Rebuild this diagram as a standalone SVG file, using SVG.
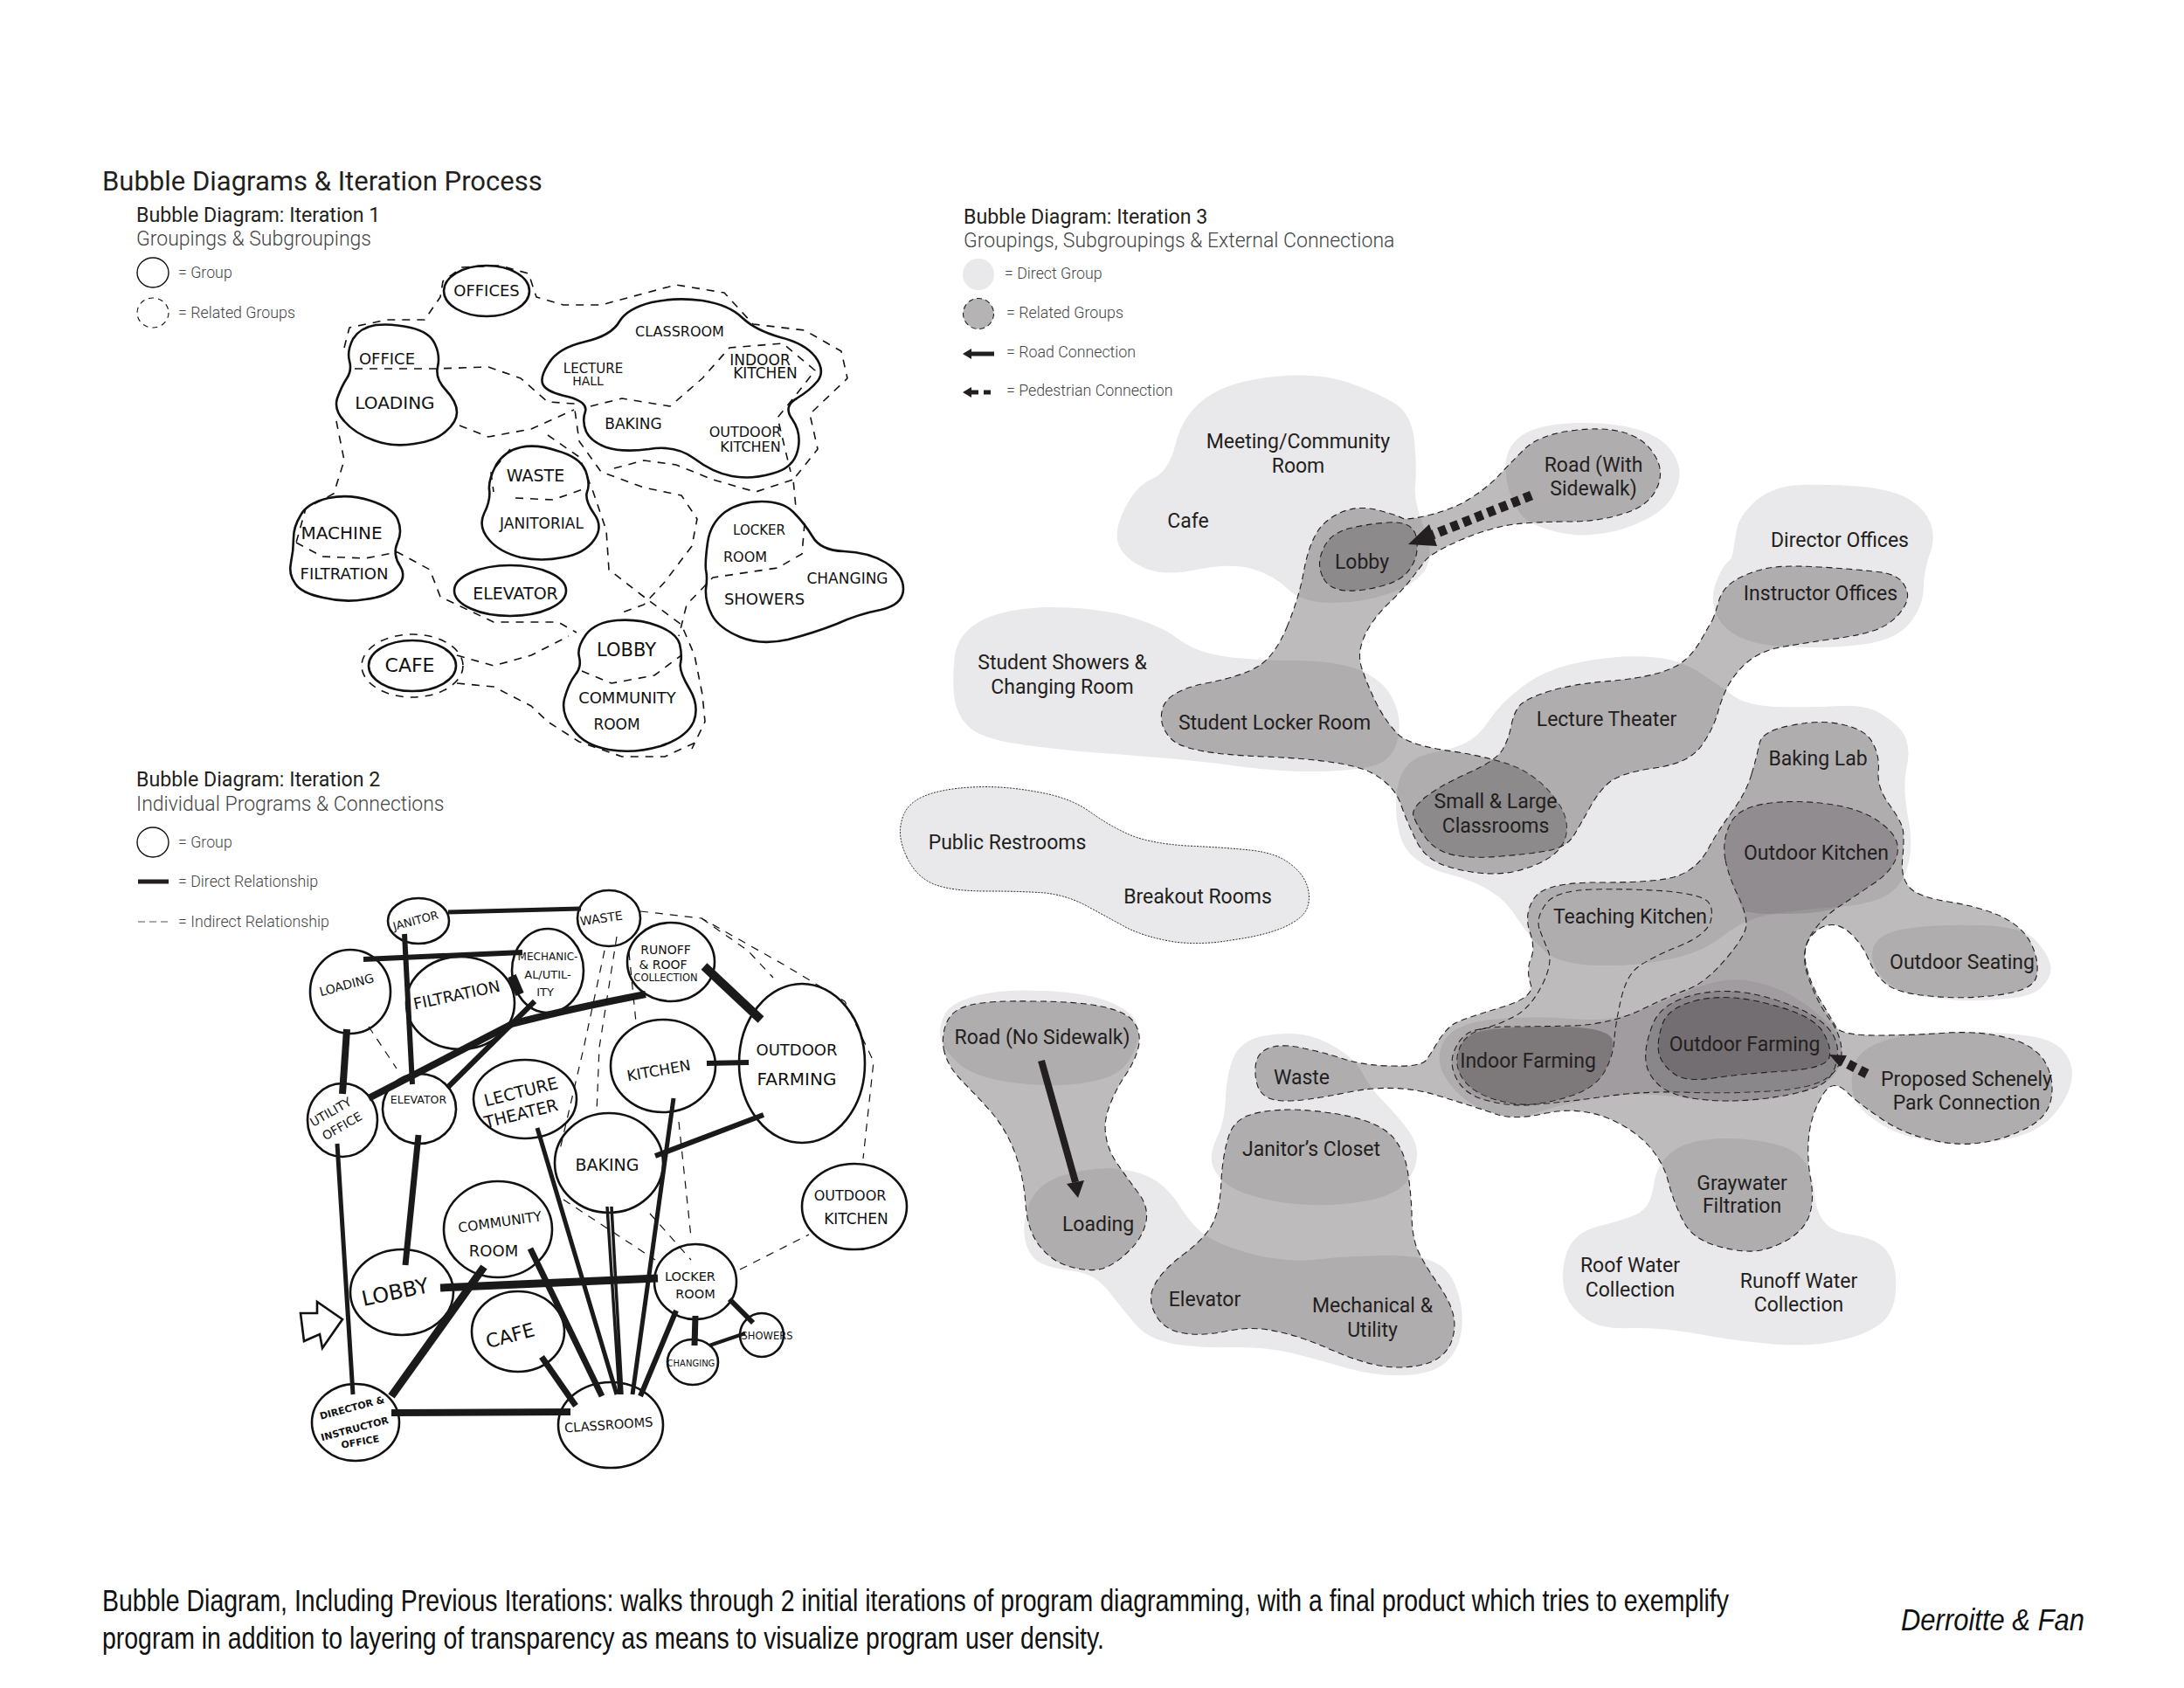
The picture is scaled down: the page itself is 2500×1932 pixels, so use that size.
<svg xmlns="http://www.w3.org/2000/svg" width="2500" height="1932" viewBox="0 0 2500 1932">
<style>
text{font-family:Roboto,"Liberation Sans",sans-serif;fill:#231f20}
.h1{font-size:31px}
.h2{font-size:23.200px}
.h3{font-size:23px;font-weight:300;fill:#444}
.lg{font-size:17.800px;font-weight:300;fill:#444}
.lb{font-size:23px;text-anchor:middle}
.lt{fill:#e9e8ea}
.md{fill:#5a5558;fill-opacity:.4;stroke:#231f20;stroke-width:1.1;stroke-dasharray:7 4.500}
.ln{fill:none;stroke:#231f20;stroke-width:1.1;stroke-dasharray:7 4.500}
.dk{fill:#5a5558;fill-opacity:.5}
.dot{fill:#e9e8ea;stroke:#231f20;stroke-width:1;stroke-dasharray:2 1.500}
.sk{fill:#fff;stroke:#111;stroke-width:2.6}
.sd{fill:none;stroke:#111;stroke-width:1.6;stroke-dasharray:9 8;stroke-linejoin:round}
.st{fill:none;stroke:#1a1a1a;stroke-linecap:butt;stroke-linejoin:round}
.hw{font-family:"DejaVu Sans",sans-serif;font-size:18px;text-anchor:middle;fill:#111}
.cap{font-family:"Liberation Sans Narrow","Liberation Sans",sans-serif;font-size:35px;fill:#111}
.pd{fill:none;stroke:#231f20;stroke-width:11;stroke-dasharray:9 6}
</style>
<rect width="2500" height="1932" fill="#fff"/>

<g id="headings">
<text class="h1" x="117" y="218">Bubble Diagrams &amp; Iteration Process</text>
<text class="h2" x="156" y="254">Bubble Diagram: Iteration 1</text>
<text class="h3" x="156" y="281">Groupings &amp; Subgroupings</text>
<text class="h2" x="156" y="900">Bubble Diagram: Iteration 2</text>
<text class="h3" x="156" y="928">Individual Programs &amp; Connections</text>
<text class="h2" x="1103" y="256">Bubble Diagram: Iteration 3</text>
<text class="h3" x="1103" y="283">Groupings, Subgroupings &amp; External Connectiona</text>
</g>

<g id="legend-1">
<ellipse cx="175" cy="312" rx="18" ry="17" fill="none" stroke="#111" stroke-width="1.4"/>
<text class="lg" x="204" y="318">= Group</text>
<ellipse cx="175" cy="358" rx="18" ry="17" fill="none" stroke="#111" stroke-width="1.1" stroke-dasharray="6 5"/>
<text class="lg" x="204" y="364">= Related Groups</text>
</g>
<g id="legend-2">
<ellipse cx="175" cy="964" rx="18" ry="17" fill="none" stroke="#111" stroke-width="1.4"/>
<text class="lg" x="204" y="970">= Group</text>
<path d="M158 1009H193" stroke="#231f20" stroke-width="5" fill="none"/>
<text class="lg" x="204" y="1015">= Direct Relationship</text>
<path d="M158 1055H193" stroke="#555" stroke-width="1.2" stroke-dasharray="8 5" fill="none"/>
<text class="lg" x="204" y="1061">= Indirect Relationship</text>
</g>
<g id="legend-3">
<circle cx="1120" cy="314" r="18" fill="#e9e8ea"/>
<text class="lg" x="1150" y="319">= Direct Group</text>
<circle cx="1120" cy="359" r="17.500" fill="#b5b3b4" stroke="#231f20" stroke-width="1.1" stroke-dasharray="6 4"/>
<text class="lg" x="1152" y="364">= Related Groups</text>
<path d="M1110 405H1138" stroke="#231f20" stroke-width="5" fill="none"/>
<polygon points="1102,405 1112,399 1112,411" fill="#231f20"/>
<text class="lg" x="1152" y="409">= Road Connection</text>
<path d="M1112 449H1138" stroke="#231f20" stroke-width="5" stroke-dasharray="8 6" fill="none"/>
<polygon points="1102,449 1112,443 1112,455" fill="#231f20"/>
<text class="lg" x="1152" y="453">= Pedestrian Connection</text>
</g>

<g id="iteration-1">
<g id="s1-offices"><ellipse class="sk" cx="557" cy="333" rx="49" ry="29"/><text class="hw" x="557" y="339">OFFICES</text></g>
<g id="s1-office-loading"><path class="sk" d="M400 413 Q397 402 404 388 Q412 375 430 372 Q449 370 470 375 Q492 380 498 394 Q504 407 501 420 Q498 433 510 446 Q523 460 523 472 Q523 483 510 494 Q498 505 474 508 Q449 512 428 504 Q406 496 394 482 Q382 469 386 456 Q391 442 397 433 Q403 424 400 413Z"/><text class="hw" x="443" y="417">OFFICE</text><text class="hw" x="452" y="468" style="font-size:20px">LOADING</text></g>
<g id="s1-classroom"><path class="sk" d="M622 441 Q617 433 628 416 Q639 398 670 391 Q700 384 709 368 Q718 353 746 346 Q774 340 804 344 Q835 349 850 364 Q865 378 893 386 Q921 393 933 408 Q945 424 936 436 Q927 447 912 456 Q896 465 907 480 Q918 496 913 516 Q908 536 884 542 Q859 549 838 545 Q816 541 795 525 Q774 509 743 514 Q712 518 694 512 Q676 505 671 494 Q666 482 670 471 Q673 460 650 454 Q627 449 622 441Z"/>
<text class="hw" x="778" y="385" style="font-size:16px">CLASSROOM</text><text class="hw" x="679" y="427" style="font-size:15px">LECTURE</text><text class="hw" x="673" y="441" style="font-size:14px">HALL</text><text class="hw" x="870" y="418" style="font-size:17px">INDOOR</text><text class="hw" x="876" y="433" style="font-size:17px">KITCHEN</text><text class="hw" x="725" y="491" style="font-size:17px">BAKING</text><text class="hw" x="853" y="500" style="font-size:16px">OUTDOOR</text><text class="hw" x="859" y="517" style="font-size:16px">KITCHEN</text></g>
<g id="s1-waste"><path class="sk" d="M560 560 Q559 549 568 532 Q578 516 596 512 Q614 508 638 516 Q663 523 670 538 Q676 554 672 563 Q669 572 680 588 Q691 603 680 618 Q669 634 644 638 Q620 643 596 638 Q572 632 560 618 Q547 603 554 588 Q562 572 560 560Z"/><text class="hw" x="613" y="551" style="font-size:19px">WASTE</text><text class="hw" x="620" y="605" style="font-size:17px">JANITORIAL</text></g>
<g id="s1-locker"><path class="sk" d="M808 652 Q807 643 810 621 Q813 599 830 586 Q847 574 872 574 Q896 574 908 586 Q921 599 930 614 Q939 630 966 631 Q994 632 1014 644 Q1034 657 1034 674 Q1034 692 1008 698 Q982 703 958 714 Q933 724 902 732 Q871 739 847 729 Q823 719 815 704 Q807 688 808 674 Q810 661 808 652Z"/><text class="hw" x="869" y="612" style="font-size:15px">LOCKER</text><text class="hw" x="853" y="643" style="font-size:16px">ROOM</text><text class="hw" x="970" y="668" style="font-size:17px">CHANGING</text><text class="hw" x="875" y="692">SHOWERS</text></g>
<g id="s1-machine"><path class="sk" d="M336 616 Q336 603 344 590 Q351 576 376 570 Q400 565 424 573 Q449 581 455 594 Q461 608 455 621 Q449 634 458 648 Q466 661 454 672 Q443 683 418 686 Q394 690 370 684 Q345 679 338 668 Q330 657 333 644 Q336 630 336 616Z"/><text class="hw" x="391" y="617" style="font-size:20px">MACHINE</text><text class="hw" x="394" y="663" style="font-size:18px">FILTRATION</text></g>
<g id="s1-elevator"><ellipse class="sk" cx="584" cy="676" rx="64" ry="29"/><text class="hw" x="590" y="686" style="font-size:19px">ELEVATOR</text></g>
<g id="s1-cafe"><ellipse class="sk" cx="472" cy="762" rx="50" ry="29"/><text class="hw" x="469" y="769" style="font-size:22px">CAFE</text></g>
<g id="s1-lobby"><path class="sk" d="M663 752 Q660 741 671 726 Q682 712 706 710 Q731 708 752 716 Q774 724 778 737 Q781 750 779 759 Q777 768 789 788 Q801 808 794 826 Q786 844 756 854 Q725 863 697 858 Q669 853 656 835 Q642 817 646 800 Q651 782 658 773 Q666 764 663 752Z"/><text class="hw" x="717" y="751" style="font-size:21px">LOBBY</text><text class="hw" x="718" y="805" style="font-size:18px">COMMUNITY</text><text class="hw" x="706" y="835" style="font-size:17px">ROOM</text></g>
<g id="s1-connectors">
<polyline class="sd" points="394,398 400,375 443,366 486,366 504,340 507,322 529,306 572,304 605,313 614,340 645,349 688,349 774,326 829,335 862,371 921,378 963,402 970,433 927,474 936,514 908,549 911,581"/>
<polyline class="sd" points="406,422 498,422 559,420 596,433 627,460 657,462 663,505 688,540 737,558 780,567 798,594 792,625 761,666 737,692 712,701"/>
<polyline class="sd" points="385,482 394,527 382,565 350,582 339,621"/>
<polyline class="sd" points="526,487 559,500 608,491 657,469"/>
<polyline class="sd" points="584,514 562,541 565,563"/>
<polyline class="sd" points="590,570 633,572 673,558"/>
<polyline class="sd" points="627,498 663,523 679,563 694,607 697,652 737,683 780,715 795,750 804,795 807,826 792,857"/>
<polyline class="sd" points="703,536 737,527 774,532 816,549 865,563 908,549"/>
<polyline class="sd" points="676,465 712,456 767,465 804,433 835,398 896,393 933,424 908,456 890,478 905,540"/>
<polyline class="sd" points="921,599 918,634 890,650 816,661 786,692 777,728"/>
<polyline class="sd" points="339,621 369,637 418,639 455,632 492,652 504,683 565,712 639,712 660,724"/>
<polyline class="sd" points="666,768 700,782 749,773 780,750"/>
<polyline class="sd" points="523,750 565,762 608,750 651,728"/>
<polyline class="sd" points="523,782 565,786 608,808 627,826 663,849 712,866 761,866 798,849"/>
<ellipse class="sd" cx="472" cy="762" rx="58" ry="36"/>
</g>
</g>

<g id="iteration-2">
<g id="s2-outline-nodes">
<g id="s2-janitor"><ellipse class="sk" cx="479" cy="1054" rx="35" ry="26"/><text class="hw" style="font-size:13px" transform="translate(477,1058) rotate(-15)">JANITOR</text></g>
<g id="s2-waste"><ellipse class="sk" cx="697" cy="1051" rx="36" ry="32"/><text class="hw" style="font-size:14px" transform="translate(689,1056) rotate(-8)">WASTE</text></g>
<g id="s2-filtration"><ellipse class="sk" cx="527" cy="1148" rx="62" ry="53"/><text class="hw" style="font-size:18px" transform="translate(524,1145) rotate(-12)">FILTRATION</text></g>
<g id="s2-mechanical"><ellipse class="sk" cx="627" cy="1111" rx="41" ry="48"/><text class="hw" style="font-size:12px" x="627" y="1099">MECHANIC-</text><text class="hw" style="font-size:13px" x="627" y="1120">AL/UTIL-</text><text class="hw" style="font-size:13px" x="624" y="1140">ITY</text></g>
<g id="s2-runoff"><ellipse class="sk" cx="768" cy="1101" rx="50" ry="45"/><text class="hw" style="font-size:14px" x="762" y="1092">RUNOFF</text><text class="hw" style="font-size:14px" x="759" y="1109">&amp; ROOF</text><text class="hw" style="font-size:11.500px" x="762" y="1123">COLLECTION</text></g>
<g id="s2-loading"><ellipse class="sk" cx="401" cy="1135" rx="46" ry="48"/><text class="hw" style="font-size:14px" transform="translate(398,1132) rotate(-15)">LOADING</text></g>
<g id="s2-farming"><ellipse class="sk" cx="918" cy="1217" rx="72" ry="91"/><text class="hw" style="font-size:18px" x="912" y="1208">OUTDOOR</text><text class="hw" style="font-size:20px" x="912" y="1242">FARMING</text></g>
<g id="s2-kitchen"><ellipse class="sk" cx="759" cy="1220" rx="60" ry="53"/><text class="hw" style="font-size:17px" transform="translate(755,1231) rotate(-10)">KITCHEN</text></g>
<g id="s2-lecture"><ellipse class="sk" cx="601" cy="1258" rx="59" ry="45"/><text class="hw" style="font-size:19px" transform="translate(598,1256) rotate(-14)">LECTURE</text><text class="hw" style="font-size:19px" transform="translate(598,1281) rotate(-14)">THEATER</text></g>
<g id="s2-baking"><ellipse class="sk" cx="697" cy="1331" rx="62" ry="57"/><text class="hw" style="font-size:19px" x="695" y="1340">BAKING</text></g>
<g id="s2-utility"><ellipse class="sk" cx="392" cy="1282" rx="40" ry="42"/><text class="hw" style="font-size:14px" transform="translate(381,1277) rotate(-30)">UTILITY</text><text class="hw" style="font-size:14px" transform="translate(394,1293) rotate(-30)">OFFICE</text></g>
<g id="s2-elevator"><ellipse class="sk" cx="480" cy="1269" rx="42" ry="40"/><text class="hw" style="font-size:12.500px" x="479" y="1263">ELEVATOR</text></g>
<g id="s2-community"><ellipse class="sk" cx="570" cy="1407" rx="62" ry="55"/><text class="hw" style="font-size:15.500px" transform="translate(573,1404) rotate(-8)">COMMUNITY</text><text class="hw" style="font-size:18px" x="565" y="1438">ROOM</text></g>
<g id="s2-lobby"><ellipse class="sk" cx="460" cy="1479" rx="59" ry="49"/><text class="hw" style="font-size:24px" transform="translate(454,1487) rotate(-12)">LOBBY</text></g>
<g id="s2-cafe"><ellipse class="sk" cx="593" cy="1524" rx="53" ry="46"/><text class="hw" style="font-size:22px" transform="translate(586,1536) rotate(-15)">CAFE</text></g>
<g id="s2-locker"><ellipse class="sk" cx="796" cy="1467" rx="47" ry="43"/><text class="hw" style="font-size:14.500px" x="790" y="1466">LOCKER</text><text class="hw" style="font-size:14.500px" x="796" y="1486">ROOM</text></g>
<g id="s2-outdoor-kitchen"><ellipse class="sk" cx="978" cy="1381" rx="60" ry="49"/><text class="hw" style="font-size:16px" x="973" y="1374">OUTDOOR</text><text class="hw" style="font-size:17px" x="980" y="1401">KITCHEN</text></g>
<g id="s2-changing"><ellipse class="sk" cx="793" cy="1559" rx="29" ry="26"/><text class="hw" style="font-size:10px" x="791" y="1564">CHANGING</text></g>
<g id="s2-showers"><ellipse class="sk" cx="872" cy="1528" rx="25" ry="25"/><text class="hw" style="font-size:11.500px" x="878" y="1533">SHOWERS</text></g>
<g id="s2-classrooms"><ellipse class="sk" cx="699" cy="1631" rx="60" ry="49"/><text class="hw" style="font-size:14.500px" transform="translate(697,1636) rotate(-4)">CLASSROOMS</text></g>
<g id="s2-director"><ellipse class="sk" cx="407" cy="1628" rx="50" ry="44"/><text class="hw" style="font-size:11px;font-weight:bold" transform="translate(404,1615) rotate(-15)">DIRECTOR &amp;</text><text class="hw" style="font-size:11px;font-weight:bold" transform="translate(407,1639) rotate(-15)">INSTRUCTOR</text><text class="hw" style="font-size:11px;font-weight:bold" transform="translate(413,1654) rotate(-10)">OFFICE</text></g>
<polygon id="s2-entry" class="sk" points="344,1503 363,1503 363,1490 392,1510 369,1543 366,1527 348,1535"/>
</g>
<g id="s2-connectors">
<g class="st">
<path d="M513 1044L665 1040" stroke-width="5"/>
<path d="M416 1098L598 1090" stroke-width="6"/>
<path d="M463 1069L472 1241" stroke-width="6"/>
<path d="M586 1117L595 1138" stroke-width="10"/>
<path d="M806 1106L871 1167" stroke-width="10"/>
<path d="M422 1257L586 1172Q650 1155 739 1138" stroke-width="8"/>
<path d="M513 1244L612 1146" stroke-width="6"/>
<path d="M397 1178L392 1252" stroke-width="8"/>
<path d="M809 1217L857 1216" stroke-width="6"/>
<path d="M750 1323L874 1276" stroke-width="6"/>
<path d="M479 1299L464 1448" stroke-width="7"/>
<path d="M386 1309L404 1596" stroke-width="5"/>
<path d="M504 1474L753 1463" stroke-width="9"/>
<path d="M554 1450L448 1598" stroke-width="9"/>
<path d="M448 1617L653 1616" stroke-width="8"/>
<path d="M607 1429L689 1598" stroke-width="7"/>
<path d="M620 1553L659 1609" stroke-width="7"/>
<path d="M615 1291L706 1596" stroke-width="5"/>
<path d="M695 1381L709 1596M700 1381L712 1596" stroke-width="3.500"/>
<path d="M771 1257L724 1596" stroke-width="5"/>
<path d="M774 1500L733 1598" stroke-width="6"/>
<path d="M796 1506L795 1540" stroke-width="7"/>
<path d="M835 1487L862 1514" stroke-width="6"/>
<path d="M812 1540L853 1526" stroke-width="4"/>
</g>
<g class="sd" style="stroke-width:1.200">
<polyline points="422,1175 454,1223"/>
<polyline points="733,1043 803,1051 897,1104 967,1146 1000,1215 988,1326"/>
<polyline points="803,1051 856,1088 885,1119"/>
<polyline points="692,1088 668,1200 640,1320"/>
<polyline points="706,1072 686,1199 683,1273"/>
<polyline points="720,1090 728,1170"/>
<polyline points="777,1284 791,1416"/>
<polyline points="645,1373 750,1442"/>
<polyline points="744,1389 791,1442"/>
<polyline points="847,1453 926,1413"/>
</g>
</g>
</g>

<g id="iteration-3-shapes">
<path class="lt" d="M1281 625 Q1274 610 1287 583 Q1300 556 1319 548 Q1338 540 1346 507 Q1354 474 1381 455 Q1408 436 1459 431 Q1510 426 1544 438 Q1578 450 1597 462 Q1616 474 1619 505 Q1622 536 1620 555 Q1618 574 1630 604 Q1642 634 1632 651 Q1622 668 1591 679 Q1560 690 1525 690 Q1490 690 1474 674 Q1458 658 1433 651 Q1408 644 1370 652 Q1332 660 1310 650 Q1288 640 1281 625Z"/>
<path class="lt" d="M1092 796 Q1090 776 1093 750 Q1097 725 1122 711 Q1148 697 1196 695 Q1245 694 1286 704 Q1327 715 1347 730 Q1367 746 1400 751 Q1434 756 1482 756 Q1531 756 1559 768 Q1587 781 1596 804 Q1606 827 1599 850 Q1592 873 1566 878 Q1541 883 1500 883 Q1459 883 1403 875 Q1347 868 1275 863 Q1204 858 1163 851 Q1122 845 1108 831 Q1094 817 1092 796Z"/>
<path class="lt" d="M1728 563 Q1722 544 1724 526 Q1727 508 1744 497 Q1761 486 1804 484 Q1848 483 1876 492 Q1905 501 1916 520 Q1928 540 1918 561 Q1909 583 1883 595 Q1857 608 1831 611 Q1805 615 1779 608 Q1753 601 1744 592 Q1735 583 1728 563Z"/>
<path class="lt" d="M1984 631 Q1985 622 1988 606 Q1991 590 2010 573 Q2030 556 2062 555 Q2095 554 2132 557 Q2169 561 2186 572 Q2204 583 2210 599 Q2216 615 2209 634 Q2202 654 2202 672 Q2202 690 2190 708 Q2178 726 2154 733 Q2130 740 2080 741 Q2030 742 2004 734 Q1978 726 1967 708 Q1957 690 1963 670 Q1970 651 1976 645 Q1983 640 1984 631Z"/>
<path class="lt" d="M1601 950 Q1596 928 1599 905 Q1603 882 1614 873 Q1625 864 1642 861 Q1660 858 1676 851 Q1692 844 1705 824 Q1718 804 1744 785 Q1770 765 1813 757 Q1857 749 1890 752 Q1922 754 1946 770 Q1970 786 1985 797 Q2000 808 2037 809 Q2074 810 2106 808 Q2139 806 2158 820 Q2178 833 2182 847 Q2187 861 2182 881 Q2178 901 2184 935 Q2191 969 2183 994 Q2175 1019 2153 1028 Q2131 1037 2102 1038 Q2074 1040 2036 1045 Q1999 1050 1974 1070 Q1948 1091 1910 1098 Q1873 1106 1830 1105 Q1787 1104 1770 1090 Q1753 1076 1738 1053 Q1724 1030 1706 1020 Q1689 1009 1664 1002 Q1638 996 1622 984 Q1606 973 1601 950Z"/>
<path class="lt" d="M1660 1241 Q1641 1218 1651 1195 Q1661 1172 1707 1167 Q1753 1162 1798 1166 Q1844 1170 1873 1158 Q1902 1147 1939 1132 Q1976 1116 2010 1124 Q2045 1132 2074 1155 Q2103 1178 2107 1193 Q2111 1208 2104 1224 Q2097 1239 2074 1246 Q2051 1254 2014 1259 Q1976 1264 1924 1256 Q1873 1249 1830 1256 Q1787 1264 1761 1273 Q1735 1282 1706 1273 Q1678 1264 1660 1241Z"/>
<path class="lt" d="M1792 1481 Q1786 1463 1792 1438 Q1799 1412 1828 1404 Q1856 1397 1873 1390 Q1890 1382 1893 1356 Q1896 1331 1916 1317 Q1936 1303 1976 1303 Q2017 1303 2046 1314 Q2074 1326 2077 1366 Q2080 1407 2114 1412 Q2149 1417 2160 1432 Q2172 1448 2170 1476 Q2169 1504 2150 1517 Q2131 1530 2097 1536 Q2063 1542 2026 1538 Q1988 1535 1945 1527 Q1902 1519 1868 1520 Q1833 1522 1816 1510 Q1799 1499 1792 1481Z"/>
<path class="lt" d="M2144 1101 Q2140 1086 2150 1076 Q2160 1065 2189 1062 Q2218 1058 2266 1059 Q2315 1060 2330 1076 Q2344 1091 2347 1104 Q2350 1116 2338 1129 Q2327 1142 2286 1144 Q2246 1147 2212 1142 Q2177 1137 2163 1126 Q2149 1116 2144 1101Z"/>
<path class="lt" d="M2122 1221 Q2126 1203 2152 1193 Q2177 1183 2223 1182 Q2269 1180 2310 1184 Q2350 1188 2362 1203 Q2375 1218 2371 1238 Q2367 1259 2347 1280 Q2327 1300 2286 1306 Q2246 1313 2209 1306 Q2172 1300 2149 1284 Q2126 1269 2122 1254 Q2117 1239 2122 1221Z"/>
<path class="lt" d="M1077 1190 Q1074 1178 1080 1164 Q1085 1149 1116 1140 Q1147 1132 1190 1134 Q1232 1135 1259 1143 Q1286 1151 1297 1164 Q1308 1178 1299 1201 Q1290 1224 1270 1232 Q1250 1240 1214 1242 Q1179 1243 1146 1237 Q1112 1231 1096 1216 Q1080 1201 1077 1190Z"/>
<path class="lt" d="M1174 1422 Q1169 1403 1178 1378 Q1188 1353 1221 1344 Q1254 1335 1281 1338 Q1308 1341 1324 1352 Q1339 1362 1350 1380 Q1362 1399 1375 1410 Q1388 1422 1428 1434 Q1469 1445 1502 1442 Q1536 1438 1580 1437 Q1625 1436 1643 1445 Q1661 1454 1668 1477 Q1676 1500 1673 1523 Q1670 1546 1654 1560 Q1638 1573 1609 1574 Q1580 1576 1542 1566 Q1505 1555 1476 1548 Q1446 1541 1408 1542 Q1371 1543 1342 1538 Q1313 1532 1300 1516 Q1286 1500 1270 1479 Q1254 1458 1230 1455 Q1205 1452 1192 1446 Q1179 1440 1174 1422Z"/>
<path class="lt" d="M1388 1334 Q1384 1321 1393 1302 Q1402 1284 1403 1256 Q1404 1229 1412 1210 Q1420 1192 1444 1186 Q1469 1181 1491 1184 Q1513 1188 1534 1202 Q1554 1215 1560 1229 Q1567 1243 1582 1259 Q1598 1275 1610 1291 Q1623 1307 1622 1323 Q1621 1339 1610 1353 Q1598 1367 1567 1374 Q1536 1380 1502 1379 Q1469 1378 1446 1372 Q1424 1367 1408 1358 Q1393 1348 1388 1334Z"/>
<path class="dot" d="M1038 981 Q1027 958 1032 940 Q1036 921 1056 912 Q1076 903 1112 901 Q1147 899 1185 906 Q1223 912 1246 928 Q1268 944 1290 954 Q1313 965 1358 968 Q1402 970 1431 973 Q1460 976 1476 988 Q1491 999 1496 1013 Q1501 1027 1496 1040 Q1491 1052 1468 1062 Q1446 1071 1410 1076 Q1375 1082 1344 1078 Q1313 1073 1290 1062 Q1268 1050 1246 1038 Q1223 1025 1196 1022 Q1170 1020 1130 1020 Q1089 1020 1069 1012 Q1049 1004 1038 981Z"/>
<path class="md" d="M1473 718 Q1487 684 1492 656 Q1497 628 1506 612 Q1515 595 1536 586 Q1556 578 1578 584 Q1600 590 1605 593 Q1610 596 1638 589 Q1665 582 1682 571 Q1700 560 1714 546 Q1727 532 1744 515 Q1761 498 1798 493 Q1835 488 1859 495 Q1883 502 1894 521 Q1906 540 1896 560 Q1886 580 1858 588 Q1831 597 1796 597 Q1761 597 1733 600 Q1705 604 1672 618 Q1640 632 1632 641 Q1625 650 1616 662 Q1607 674 1586 694 Q1566 715 1560 733 Q1553 751 1560 768 Q1566 786 1576 806 Q1587 827 1600 840 Q1612 853 1663 860 Q1714 868 1740 880 Q1765 893 1780 914 Q1796 934 1793 954 Q1790 975 1762 988 Q1735 1000 1710 1000 Q1684 1000 1658 992 Q1633 985 1622 964 Q1612 944 1604 922 Q1597 899 1569 884 Q1541 870 1449 866 Q1357 863 1341 846 Q1325 830 1331 810 Q1337 791 1380 782 Q1423 774 1441 762 Q1459 751 1473 718Z"/>
<path class="md" d="M1514 660 Q1507 646 1514 630 Q1520 613 1540 606 Q1561 600 1589 598 Q1617 596 1621 614 Q1625 633 1616 648 Q1607 664 1584 670 Q1561 677 1540 676 Q1520 674 1514 660Z"/>
<path class="md" d="M1960 710 Q1963 704 1968 686 Q1974 669 1994 660 Q2013 651 2032 649 Q2052 647 2084 649 Q2117 651 2145 654 Q2173 656 2180 670 Q2188 683 2178 697 Q2169 711 2152 719 Q2134 727 2093 732 Q2052 738 2032 742 Q2013 747 2000 758 Q1987 769 1978 785 Q1970 801 1966 817 Q1961 833 1952 847 Q1944 861 1931 868 Q1918 876 1888 880 Q1857 885 1844 894 Q1831 904 1820 924 Q1809 944 1801 957 Q1793 970 1770 974 Q1747 978 1718 980 Q1689 983 1666 979 Q1644 975 1632 959 Q1621 943 1618 934 Q1615 926 1632 912 Q1649 899 1680 885 Q1712 871 1720 858 Q1727 846 1730 830 Q1733 815 1740 807 Q1748 799 1774 791 Q1800 783 1837 780 Q1874 777 1896 771 Q1918 765 1928 756 Q1939 747 1948 731 Q1957 715 1960 710Z"/>
<path class="md" d="M2005 886 Q2011 866 2014 851 Q2017 836 2052 830 Q2086 823 2112 830 Q2137 836 2144 851 Q2152 866 2150 884 Q2149 902 2162 920 Q2175 938 2178 948 Q2180 958 2178 981 Q2175 1004 2186 1016 Q2197 1027 2230 1032 Q2263 1037 2289 1048 Q2315 1060 2325 1080 Q2335 1101 2331 1118 Q2327 1134 2286 1139 Q2246 1144 2209 1140 Q2172 1137 2159 1126 Q2146 1116 2138 1096 Q2129 1076 2113 1064 Q2097 1053 2081 1064 Q2065 1076 2066 1096 Q2068 1116 2082 1142 Q2097 1167 2102 1176 Q2108 1185 2148 1185 Q2189 1185 2229 1182 Q2269 1180 2298 1188 Q2327 1195 2340 1214 Q2352 1234 2348 1257 Q2344 1280 2318 1292 Q2292 1305 2266 1308 Q2240 1312 2208 1304 Q2177 1297 2153 1280 Q2129 1264 2113 1249 Q2097 1234 2086 1254 Q2074 1274 2071 1297 Q2068 1320 2072 1346 Q2077 1371 2072 1388 Q2068 1405 2048 1418 Q2028 1430 2008 1432 Q1988 1433 1962 1425 Q1936 1417 1926 1396 Q1916 1376 1910 1354 Q1905 1331 1886 1310 Q1867 1290 1836 1278 Q1804 1267 1770 1274 Q1735 1282 1715 1276 Q1695 1269 1646 1254 Q1598 1239 1544 1250 Q1491 1261 1468 1260 Q1446 1259 1440 1244 Q1435 1229 1438 1215 Q1442 1201 1458 1198 Q1473 1195 1493 1200 Q1513 1204 1538 1212 Q1563 1220 1594 1220 Q1625 1221 1632 1214 Q1638 1206 1646 1192 Q1655 1178 1664 1172 Q1672 1167 1715 1154 Q1758 1142 1752 1126 Q1747 1111 1752 1098 Q1758 1086 1751 1066 Q1744 1045 1757 1027 Q1770 1009 1836 1010 Q1902 1010 1922 1002 Q1942 994 1954 974 Q1965 953 1982 930 Q1999 907 2005 886Z"/>
<path class="md" style="fill-opacity:.18" d="M1975 984 Q1971 963 1980 944 Q1988 925 2020 920 Q2051 915 2091 920 Q2131 925 2153 942 Q2175 958 2172 976 Q2169 994 2148 1009 Q2126 1024 2106 1037 Q2086 1050 2073 1070 Q2060 1091 2070 1119 Q2080 1147 2094 1166 Q2108 1185 2108 1204 Q2108 1223 2091 1234 Q2074 1246 2025 1249 Q1976 1252 1924 1250 Q1873 1249 1830 1256 Q1787 1262 1758 1264 Q1730 1267 1704 1260 Q1678 1254 1668 1236 Q1658 1218 1665 1202 Q1672 1185 1686 1180 Q1701 1175 1730 1175 Q1758 1175 1801 1174 Q1844 1172 1878 1156 Q1913 1139 1933 1132 Q1953 1124 1976 1097 Q1999 1070 1999 1058 Q1999 1045 1989 1024 Q1979 1004 1975 984Z"/>
<path class="dk" style="fill-opacity:.22" d="M1975 984 Q1971 963 1980 944 Q1988 925 2020 920 Q2051 915 2091 920 Q2131 925 2153 942 Q2175 958 2172 976 Q2169 994 2148 1009 Q2126 1024 2106 1037 Q2090 1046 2040 1046 Q1999 1047 1994 1040 Q1979 1004 1975 984Z"/>
<path class="ln" d="M1762 1063 Q1758 1050 1770 1034 Q1781 1019 1824 1018 Q1867 1017 1908 1020 Q1948 1024 1955 1032 Q1962 1040 1958 1055 Q1953 1070 1922 1083 Q1890 1096 1876 1106 Q1862 1116 1856 1142 Q1850 1167 1848 1188 Q1847 1208 1837 1226 Q1827 1244 1802 1253 Q1776 1262 1753 1264 Q1730 1265 1707 1257 Q1684 1249 1674 1234 Q1664 1218 1670 1202 Q1675 1185 1696 1178 Q1718 1172 1736 1162 Q1753 1152 1766 1126 Q1778 1101 1772 1088 Q1767 1076 1762 1063Z"/>
<path class="dk" d="M1674 1234 Q1664 1218 1670 1202 Q1675 1185 1696 1180 Q1718 1175 1781 1175 Q1844 1175 1846 1192 Q1847 1208 1837 1226 Q1827 1244 1802 1253 Q1776 1262 1753 1264 Q1730 1265 1707 1257 Q1684 1249 1674 1234Z"/>
<path class="md" style="fill-opacity:.3" d="M1884 1214 Q1882 1198 1892 1172 Q1902 1147 1942 1138 Q1982 1129 2028 1143 Q2074 1157 2091 1175 Q2108 1193 2102 1216 Q2097 1239 2074 1246 Q2051 1254 2014 1258 Q1976 1262 1944 1258 Q1913 1254 1899 1242 Q1885 1229 1884 1214Z"/>
<path class="md" style="fill-opacity:.5" d="M1899 1206 Q1896 1193 1903 1172 Q1910 1152 1946 1144 Q1982 1137 2028 1150 Q2074 1162 2086 1180 Q2097 1198 2094 1210 Q2091 1223 2042 1226 Q1994 1229 1961 1234 Q1928 1239 1915 1228 Q1902 1218 1899 1206Z"/>
<path class="md" d="M1081 1204 Q1077 1188 1083 1172 Q1089 1155 1112 1150 Q1134 1145 1183 1146 Q1232 1146 1261 1152 Q1290 1158 1298 1170 Q1307 1183 1303 1199 Q1299 1215 1288 1231 Q1277 1247 1270 1266 Q1263 1284 1266 1300 Q1268 1316 1279 1332 Q1290 1348 1302 1364 Q1315 1380 1312 1398 Q1308 1417 1292 1432 Q1277 1447 1262 1452 Q1246 1456 1226 1450 Q1205 1445 1190 1426 Q1176 1408 1174 1378 Q1172 1348 1162 1320 Q1152 1293 1134 1272 Q1116 1252 1100 1236 Q1085 1220 1081 1204Z"/>
<path class="md" d="M1398 1350 Q1400 1321 1406 1302 Q1411 1284 1428 1277 Q1446 1270 1480 1270 Q1513 1271 1546 1278 Q1580 1286 1594 1301 Q1607 1316 1611 1339 Q1615 1362 1616 1388 Q1616 1413 1622 1429 Q1629 1445 1645 1468 Q1661 1491 1664 1507 Q1667 1523 1660 1539 Q1652 1555 1632 1561 Q1612 1567 1585 1564 Q1558 1560 1524 1545 Q1491 1530 1462 1524 Q1433 1517 1402 1524 Q1371 1530 1350 1525 Q1330 1520 1322 1503 Q1313 1486 1322 1470 Q1330 1454 1357 1434 Q1384 1413 1390 1396 Q1397 1380 1398 1350Z"/>
</g>

<g id="iteration-3-connectors">
<path class="pd" d="M1753 567L1640 612"/>
<polygon points="1612,623 1645,625 1636,600" fill="#231f20"/>
<path d="M1192 1214L1231 1353" stroke="#231f20" stroke-width="8" fill="none"/>
<polygon points="1234,1371 1221,1355 1241,1351" fill="#231f20"/>
<path class="pd" d="M2137 1229L2108 1214"/>
<polygon points="2094,1207 2106,1221 2114,1208" fill="#231f20"/>
</g>

<g id="iteration-3-labels">
<g id="n-meeting"><text class="lb" x="1486" y="513">Meeting/Community</text><text class="lb" x="1486" y="541">Room</text></g>
<g id="n-cafe"><text class="lb" x="1360" y="604">Cafe</text></g>
<g id="n-lobby"><text class="lb" x="1559" y="651">Lobby</text></g>
<g id="n-road-sidewalk"><text class="lb" x="1824" y="540">Road (With</text><text class="lb" x="1824" y="567">Sidewalk)</text></g>
<g id="n-director"><text class="lb" x="2106" y="626">Director Offices</text></g>
<g id="n-instructor"><text class="lb" x="2084" y="687">Instructor Offices</text></g>
<g id="n-showers"><text class="lb" x="1216" y="766">Student Showers &amp;</text><text class="lb" x="1216" y="794">Changing Room</text></g>
<g id="n-locker"><text class="lb" x="1459" y="835">Student Locker Room</text></g>
<g id="n-lecture"><text class="lb" x="1839" y="831">Lecture Theater</text></g>
<g id="n-classrooms"><text class="lb" x="1712" y="925">Small &amp; Large</text><text class="lb" x="1712" y="953">Classrooms</text></g>
<g id="n-baking"><text class="lb" x="2081" y="876">Baking Lab</text></g>
<g id="n-outdoor-kitchen"><text class="lb" x="2079" y="984">Outdoor Kitchen</text></g>
<g id="n-teaching"><text class="lb" x="1866" y="1057">Teaching Kitchen</text></g>
<g id="n-seating"><text class="lb" x="2246" y="1109">Outdoor Seating</text></g>
<g id="n-indoor-farming"><text class="lb" x="1749" y="1222">Indoor Farming</text></g>
<g id="n-outdoor-farming"><text class="lb" x="1997" y="1203">Outdoor Farming</text></g>
<g id="n-schenely"><text class="lb" x="2251" y="1243">Proposed Schenely</text><text class="lb" x="2251" y="1270">Park Connection</text></g>
<g id="n-waste"><text class="lb" x="1490" y="1241">Waste</text></g>
<g id="n-graywater"><text class="lb" x="1994" y="1362">Graywater</text><text class="lb" x="1994" y="1388">Filtration</text></g>
<g id="n-roof-water"><text class="lb" x="1866" y="1456">Roof Water</text><text class="lb" x="1866" y="1484">Collection</text></g>
<g id="n-runoff-water"><text class="lb" x="2059" y="1474">Runoff Water</text><text class="lb" x="2059" y="1501">Collection</text></g>
<g id="n-janitor"><text class="lb" x="1501" y="1323">Janitor’s Closet</text></g>
<g id="n-elevator"><text class="lb" x="1379" y="1495">Elevator</text></g>
<g id="n-mechanical"><text class="lb" x="1571" y="1502">Mechanical &amp;</text><text class="lb" x="1571" y="1530">Utility</text></g>
<g id="n-road-no-sidewalk"><text class="lb" x="1193" y="1195">Road (No Sidewalk)</text></g>
<g id="n-loading"><text class="lb" x="1257" y="1409">Loading</text></g>
<g id="n-restrooms"><text class="lb" x="1153" y="972">Public Restrooms</text></g>
<g id="n-breakout"><text class="lb" x="1371" y="1034">Breakout Rooms</text></g>
</g>

<g id="caption">
<text class="cap" x="117" y="1844" textLength="1862" lengthAdjust="spacingAndGlyphs">Bubble Diagram, Including Previous Iterations: walks through 2 initial iterations of program diagramming, with a final product which tries to exemplify</text>
<text class="cap" x="117" y="1887" textLength="1147" lengthAdjust="spacingAndGlyphs">program in addition to layering of transparency as means to visualize program user density.</text>
<text class="cap" x="2176" y="1866" textLength="210" lengthAdjust="spacingAndGlyphs" style="font-style:italic">Derroitte &amp; Fan</text>
</g>
</svg>
